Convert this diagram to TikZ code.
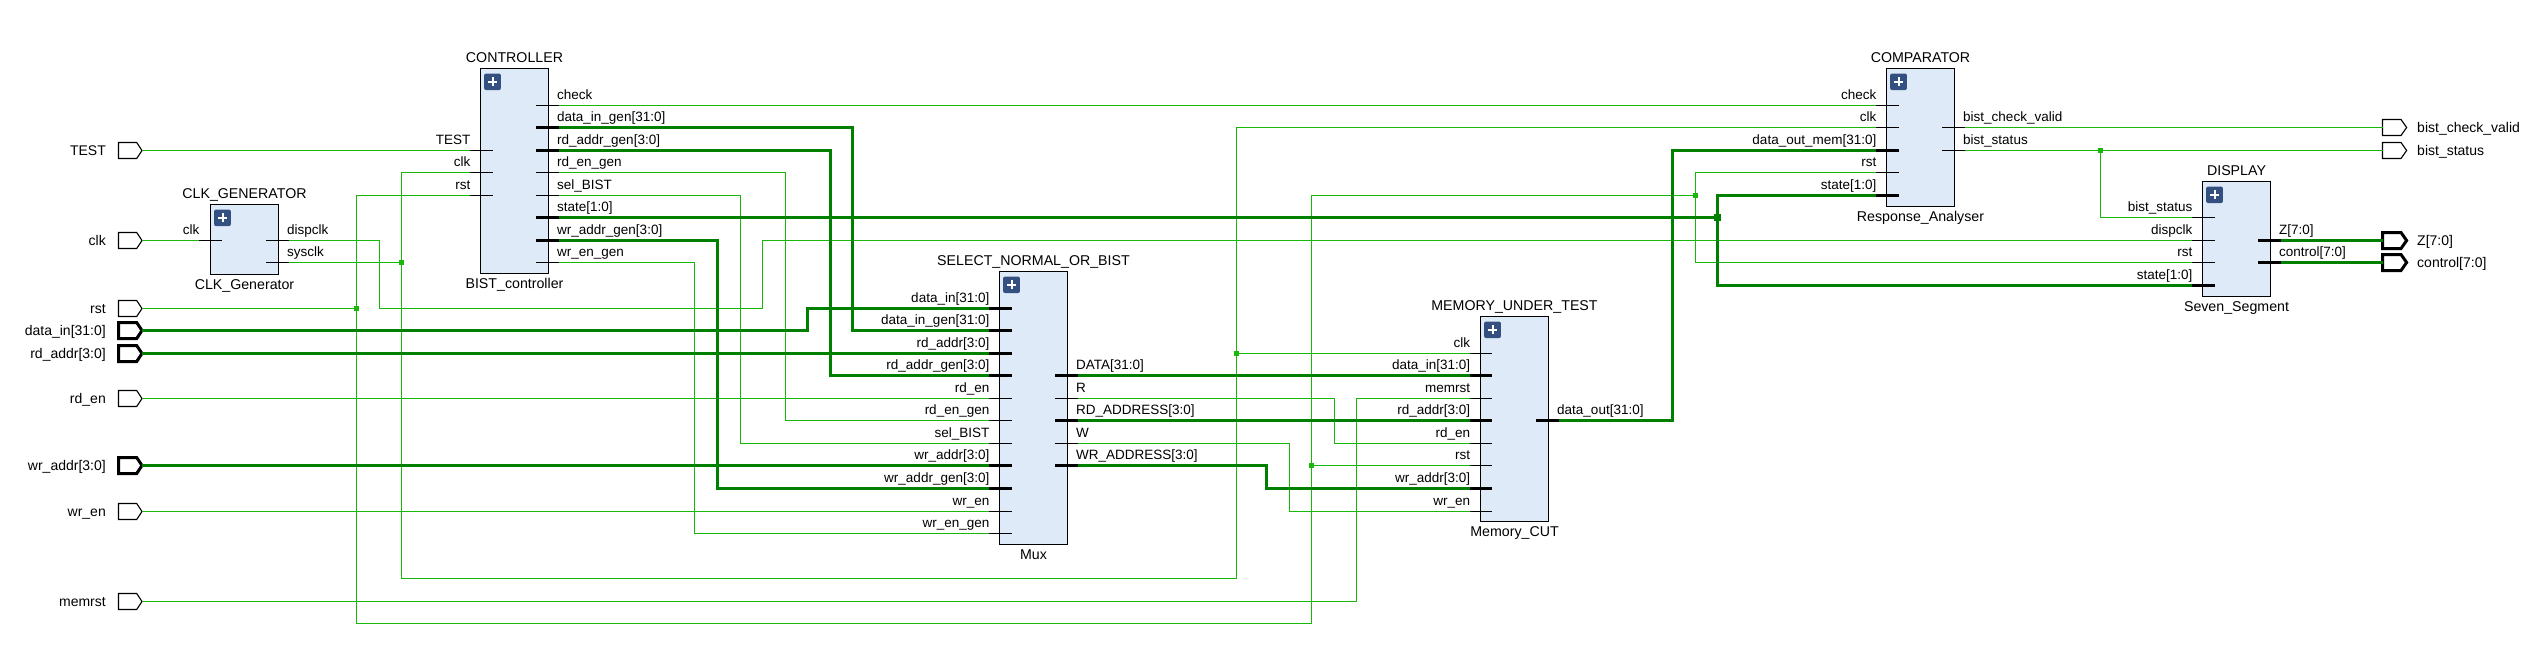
\documentclass[tikz,border=0pt]{standalone}
\usepackage{fontspec}
\setmainfont{Liberation Sans}
\definecolor{wirethin}{RGB}{24,184,8}
\definecolor{wirebus}{RGB}{0,128,0}
\definecolor{blockfill}{RGB}{222,234,248}
\definecolor{iconblue}{RGB}{52,80,128}
\tikzset{
  thinw/.style={draw=wirethin,line width=1.2pt,line join=miter},
  busw/.style={draw=wirebus,line width=3pt,line join=miter},
  thinstub/.style={draw=black,line width=1.2pt},
  busstub/.style={draw=black,line width=3pt},
  blockbox/.style={draw=black,fill=blockfill,line width=1.2pt},
  pinlabel/.style={inner sep=0pt,font=\fontsize{13.5}{16}\selectfont,text=black},
  titlelabel/.style={inner sep=0pt,font=\fontsize{14.2}{16}\selectfont,text=black},
  thinport/.style={draw=black,fill=white,line width=1.1pt,line join=miter},
  busport/.style={draw=black,fill=white,line width=3pt,line join=miter},
  junc/.style={fill=wirethin,inner sep=0pt,minimum size=5pt,draw=none,rectangle},
  busjunc/.style={fill=wirebus,inner sep=0pt,minimum size=7pt,draw=none,rectangle},
}
% #1 name, #2 x1, #3 y1, #4 x2, #5 y2, #6 title, #7 bottom text
\newcommand\myblock[7]{%
  \draw[blockbox] (#2,#3) rectangle (#4,#5);
  \fill[iconblue,rounded corners=2pt] ({#2+3.6},{#3+5}) rectangle ({#2+20.4},{#3+21.6});
  \draw[white,line width=2pt] ({#2+7.6},{#3+13.3}) -- ({#2+16.4},{#3+13.3});
  \draw[white,line width=2pt] ({#2+12},{#3+8.9}) -- ({#2+12},{#3+17.7});
  \node[titlelabel,anchor=base] (#1Title) at ({(#2+#4)/2},{#3-6}) {#6};
  \node[titlelabel,anchor=base] (#1Cell) at ({(#2+#4)/2},{#5+14.7}) {#7};
}
% #1 stub style, #2 name, #3 x outer, #4 y, #5 label
\newcommand\pinIn[5]{%
  \draw[#1] (#3,#4) -- ({#3+22.6},#4);
  \coordinate (#2) at (#3,#4);
  \node[pinlabel,anchor=base east] (#2Label) at ({#3+0.5},{#4-6}) {#5};
}
\newcommand\pinOut[5]{%
  \draw[#1] ({#3-22.6},#4) -- (#3,#4);
  \coordinate (#2) at (#3,#4);
  \node[pinlabel,anchor=base west] (#2Label) at ({#3-2},{#4-6}) {#5};
}
\newcommand\portIn[4]{%
  \draw[#1] (118.5,{#3-8}) -- (136.7,{#3-8}) -- (142,#3) -- (136.7,{#3+8}) -- (118.5,{#3+8}) -- cycle;
  \coordinate (#2) at (142,#3);
  \node[pinlabel,font=\fontsize{14}{16}\selectfont,anchor=base east] (#2Label) at (106,{#3+5}) {#4};
}
\newcommand\portOut[4]{%
  \draw[#1] (2382.5,{#3-8}) -- (2401,{#3-8}) -- (2406.6,#3) -- (2401,{#3+8}) -- (2382.5,{#3+8}) -- cycle;
  \coordinate (#2) at (2382.5,#3);
  \node[pinlabel,font=\fontsize{14}{16}\selectfont,anchor=base west] (#2Label) at (2417,{#3+5}) {#4};
}
% horizontal - vertical - horizontal through the channel #2
\newcommand\HVH[3]{(#1) -- (#1 -| #2) -- (#3 -| #2) -- (#3)}
\begin{document}
\begin{tikzpicture}[x=1pt,y=-1pt]
\useasboundingbox[fill=white] (0,0) rectangle (2534,654);
% ---------- ports ----------
\portIn{thinport}{inTEST}{150.5}{TEST}
\portIn{thinport}{inClk}{240.5}{clk}
\portIn{thinport}{inRst}{308.5}{rst}
\portIn{busport}{inDataIn}{330.5}{data\_in[31:0]}
\portIn{busport}{inRdAddr}{353.5}{rd\_addr[3:0]}
\portIn{thinport}{inRdEn}{398.5}{rd\_en}
\portIn{busport}{inWrAddr}{465.5}{wr\_addr[3:0]}
\portIn{thinport}{inWrEn}{511.5}{wr\_en}
\portIn{thinport}{inMemrst}{601.5}{memrst}
\portOut{thinport}{outCheck}{127.5}{bist\_check\_valid}
\portOut{thinport}{outStatus}{150.5}{bist\_status}
\portOut{busport}{outZ}{240.5}{Z[7:0]}
\portOut{busport}{outCtrl}{262.5}{control[7:0]}
% ---------- blocks ----------
\myblock{gen}{210.5}{204.5}{278.5}{274.5}{CLK\_GENERATOR}{CLK\_Generator}
\pinIn{thinstub}{genClk}{199}{240.5}{clk}
\pinOut{thinstub}{genDisp}{289}{240.5}{dispclk}
\pinOut{thinstub}{genSys}{289}{262.5}{sysclk}

\myblock{ctl}{480.5}{68.5}{548.5}{273.5}{CONTROLLER}{BIST\_controller}
\pinIn{thinstub}{ctlTEST}{470}{150.5}{TEST}
\pinIn{thinstub}{ctlClk}{470}{172.5}{clk}
\pinIn{thinstub}{ctlRst}{470}{195.5}{rst}
\pinOut{thinstub}{ctlCheck}{559}{105.5}{check}
\pinOut{busstub}{ctlDataGen}{559}{127.5}{data\_in\_gen[31:0]}
\pinOut{busstub}{ctlRdAddrGen}{559}{150.5}{rd\_addr\_gen[3:0]}
\pinOut{thinstub}{ctlRdEnGen}{559}{172.5}{rd\_en\_gen}
\pinOut{thinstub}{ctlSel}{559}{195.5}{sel\_BIST}
\pinOut{busstub}{ctlState}{559}{217.5}{state[1:0]}
\pinOut{busstub}{ctlWrAddrGen}{559}{240.5}{wr\_addr\_gen[3:0]}
\pinOut{thinstub}{ctlWrEnGen}{559}{262.5}{wr\_en\_gen}

\myblock{mux}{999.5}{271.5}{1067.5}{544.5}{SELECT\_NORMAL\_OR\_BIST}{Mux}
\pinIn{busstub}{muxDataIn}{989}{308.5}{data\_in[31:0]}
\pinIn{busstub}{muxDataGen}{989}{330.5}{data\_in\_gen[31:0]}
\pinIn{busstub}{muxRdAddr}{989}{353.5}{rd\_addr[3:0]}
\pinIn{busstub}{muxRdAddrGen}{989}{375.5}{rd\_addr\_gen[3:0]}
\pinIn{thinstub}{muxRdEn}{989}{398.5}{rd\_en}
\pinIn{thinstub}{muxRdEnGen}{989}{420.5}{rd\_en\_gen}
\pinIn{thinstub}{muxSel}{989}{443.5}{sel\_BIST}
\pinIn{busstub}{muxWrAddr}{989}{465.5}{wr\_addr[3:0]}
\pinIn{busstub}{muxWrAddrGen}{989}{488.5}{wr\_addr\_gen[3:0]}
\pinIn{thinstub}{muxWrEn}{989}{511.5}{wr\_en}
\pinIn{thinstub}{muxWrEnGen}{989}{533.5}{wr\_en\_gen}
\pinOut{busstub}{muxData}{1078}{375.5}{DATA[31:0]}
\pinOut{thinstub}{muxR}{1078}{398.5}{R}
\pinOut{busstub}{muxRdAddress}{1078}{420.5}{RD\_ADDRESS[3:0]}
\pinOut{thinstub}{muxW}{1078}{443.5}{W}
\pinOut{busstub}{muxWrAddress}{1078}{465.5}{WR\_ADDRESS[3:0]}

\myblock{mem}{1480.5}{316.5}{1548.5}{521.5}{MEMORY\_UNDER\_TEST}{Memory\_CUT}
\pinIn{thinstub}{memClk}{1469.8}{353.5}{clk}
\pinIn{busstub}{memDataIn}{1469.8}{375.5}{data\_in[31:0]}
\pinIn{thinstub}{memMemrst}{1469.8}{398.5}{memrst}
\pinIn{busstub}{memRdAddr}{1469.8}{420.5}{rd\_addr[3:0]}
\pinIn{thinstub}{memRdEn}{1469.8}{443.5}{rd\_en}
\pinIn{thinstub}{memRst}{1469.8}{465.5}{rst}
\pinIn{busstub}{memWrAddr}{1469.8}{488.5}{wr\_addr[3:0]}
\pinIn{thinstub}{memWrEn}{1469.8}{511.5}{wr\_en}
\pinOut{busstub}{memDataOut}{1559}{420.5}{data\_out[31:0]}

\myblock{cmp}{1886.5}{68.5}{1954.5}{206.5}{COMPARATOR}{Response\_Analyser}
\pinIn{thinstub}{cmpCheck}{1876}{105.5}{check}
\pinIn{thinstub}{cmpClk}{1876}{127.5}{clk}
\pinIn{busstub}{cmpData}{1876}{150.5}{data\_out\_mem[31:0]}
\pinIn{thinstub}{cmpRst}{1876}{172.5}{rst}
\pinIn{busstub}{cmpState}{1876}{195.5}{state[1:0]}
\pinOut{thinstub}{cmpValid}{1965}{127.5}{bist\_check\_valid}
\pinOut{thinstub}{cmpStatus}{1965}{150.5}{bist\_status}

\myblock{dis}{2202.5}{181.5}{2270.5}{296.5}{DISPLAY}{Seven\_Segment}
\pinIn{thinstub}{disStatus}{2192}{217.5}{bist\_status}
\pinIn{thinstub}{disClk}{2192}{240.5}{dispclk}
\pinIn{thinstub}{disRst}{2192}{262.5}{rst}
\pinIn{busstub}{disState}{2192}{285.5}{state[1:0]}
\pinOut{busstub}{disZ}{2280.8}{240.5}{Z[7:0]}
\pinOut{busstub}{disCtrl}{2280.8}{262.5}{control[7:0]}
% ---------- junctions and channels ----------
\coordinate (jClkA) at (401.5,262.5);
\coordinate (jClkB) at (1236.5,353.5);
\coordinate (jRstA) at (356.5,308.5);
\coordinate (jRstB) at (1311.5,465.5);
\coordinate (jRstC) at (1695.5,195.5);
\coordinate (jStat) at (2100.5,150.5);
\coordinate (jState) at (1717,217.5);
\coordinate (hClk) at (0,578.5);
\coordinate (hRst) at (0,623.5);
\coordinate (hDisp) at (0,308.5);
\coordinate (vDispA) at (379.5,0);
\coordinate (vDispB) at (762.5,0);
\coordinate (vDataGen) at (852.5,0);
\coordinate (vRdAddrGen) at (830.5,0);
\coordinate (vRdEnGen) at (785.5,0);
\coordinate (vSel) at (740.5,0);
\coordinate (vWrAddrGen) at (717.5,0);
\coordinate (vWrEnGen) at (694.5,0);
\coordinate (vDataIn) at (807.5,0);
\coordinate (vR) at (1334.5,0);
\coordinate (vW) at (1289.5,0);
\coordinate (vWrAddress) at (1266.5,0);
\coordinate (vMemrst) at (1356.5,0);
\coordinate (vDataOut) at (1672.5,0);
% ---------- thin wires ----------
\draw[thinw] (inTEST) -- (ctlTEST);
\draw[thinw] (inClk) -- (genClk);
\draw[thinw] (genDisp) -- (genDisp -| vDispA) -- (hDisp -| vDispA) -- (hDisp -| vDispB) -- (disClk -| vDispB) -- (disClk);
\draw[thinw] (genSys) -- (jClkA);
\draw[thinw] (ctlClk) -- (ctlClk -| jClkA) -- (hClk -| jClkA) -- (hClk -| jClkB) -- (cmpClk -| jClkB) -- (cmpClk);
\draw[thinw] (jClkB) -- (memClk);
\draw[thinw] (inRst) -- (jRstA);
\draw[thinw] (ctlRst) -- (ctlRst -| jRstA) -- (hRst -| jRstA) -- (hRst -| jRstB) -- (jRstC -| jRstB) -- (jRstC);
\draw[thinw] (jRstB) -- (memRst);
\draw[thinw] \HVH{cmpRst}{jRstC}{disRst};
\draw[thinw] (ctlCheck) -- (cmpCheck);
\draw[thinw] \HVH{ctlRdEnGen}{vRdEnGen}{muxRdEnGen};
\draw[thinw] \HVH{ctlSel}{vSel}{muxSel};
\draw[thinw] \HVH{ctlWrEnGen}{vWrEnGen}{muxWrEnGen};
\draw[thinw] (inRdEn) -- (muxRdEn);
\draw[thinw] (inWrEn) -- (muxWrEn);
\draw[thinw] \HVH{muxR}{vR}{memRdEn};
\draw[thinw] \HVH{muxW}{vW}{memWrEn};
\draw[thinw] \HVH{inMemrst}{vMemrst}{memMemrst};
\draw[thinw] (cmpValid) -- (outCheck);
\draw[thinw] (cmpStatus) -- (outStatus);
\draw[thinw] (jStat) -- (jStat |- disStatus) -- (disStatus);
% ---------- bus wires ----------
\draw[busw] \HVH{inDataIn}{vDataIn}{muxDataIn};
\draw[busw] (inRdAddr) -- (muxRdAddr);
\draw[busw] (inWrAddr) -- (muxWrAddr);
\draw[busw] \HVH{ctlDataGen}{vDataGen}{muxDataGen};
\draw[busw] \HVH{ctlRdAddrGen}{vRdAddrGen}{muxRdAddrGen};
\draw[busw] \HVH{ctlWrAddrGen}{vWrAddrGen}{muxWrAddrGen};
\draw[busw] (ctlState) -- (jState);
\draw[busw] (cmpState) -- (cmpState -| jState) -- (disState -| jState) -- (disState);
\draw[busw] (muxData) -- (memDataIn);
\draw[busw] (muxRdAddress) -- (memRdAddr);
\draw[busw] \HVH{muxWrAddress}{vWrAddress}{memWrAddr};
\draw[busw] \HVH{memDataOut}{vDataOut}{cmpData};
\draw[busw] (disZ) -- (outZ);
\draw[busw] (disCtrl) -- (outCtrl);
% ---------- junction dots ----------
\node[junc] (dotClkA) at (jClkA) {};
\node[junc] (dotClkB) at (jClkB) {};
\node[junc] (dotRstA) at (jRstA) {};
\node[junc] (dotRstB) at (jRstB) {};
\node[junc] (dotRstC) at (jRstC) {};
\node[junc] (dotStat) at (jStat) {};
\node[busjunc] (dotState) at (jState) {};
\end{tikzpicture}
\end{document}
